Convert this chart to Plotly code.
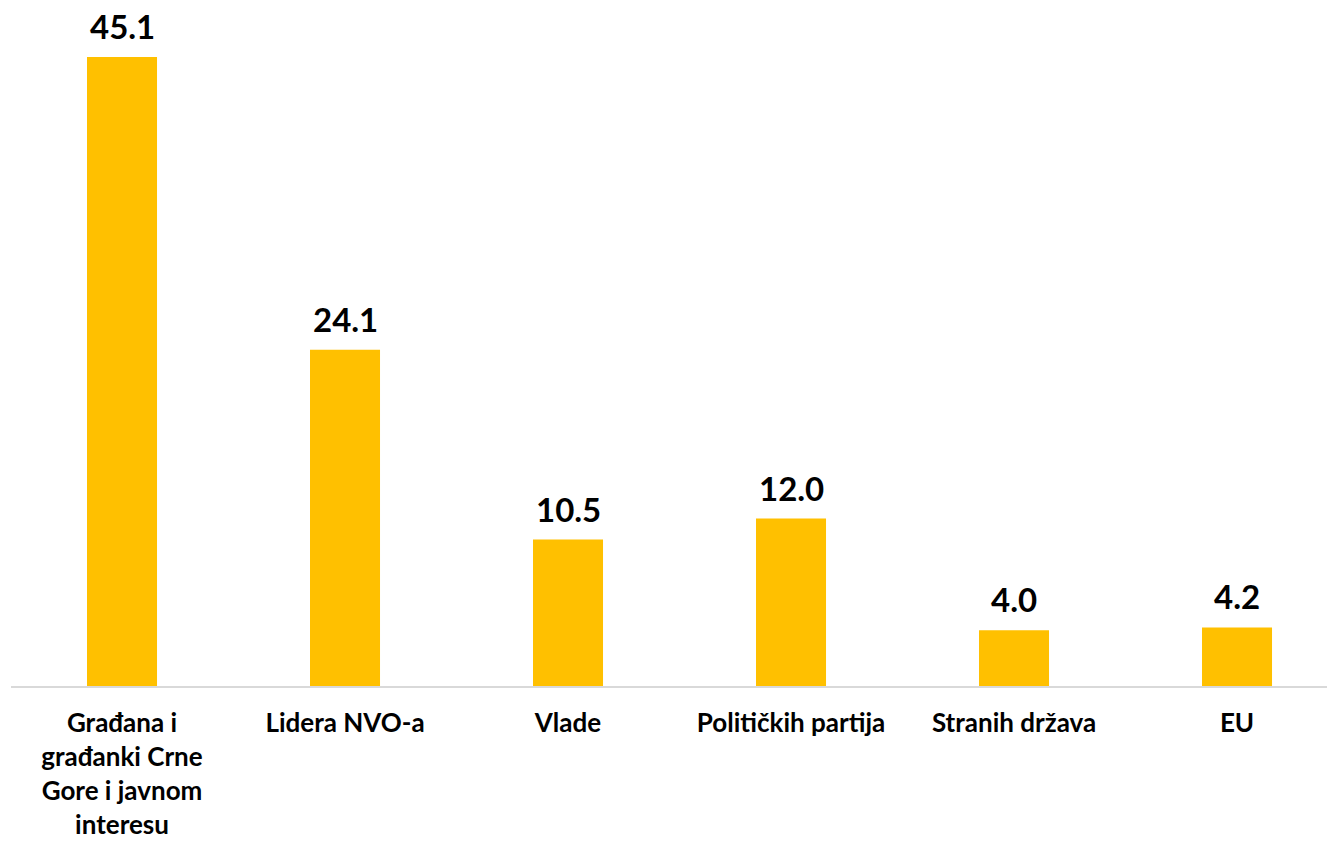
import plotly.graph_objects as go

categories = ["Građana i<br>građanki Crne<br>Gore i javnom<br>interesu", "Lidera NVO-a", "Vlade",
              "Političkih partija", "Stranih država", "EU"]
values = [45.1, 24.1, 10.5, 12.0, 4.0, 4.2]
labels = ["45.1", "24.1", "10.5", "12.0", "4.0", "4.2"]

FONT = "Lato"
fig = go.Figure()
fig.add_trace(go.Bar(
    x=categories, y=values, width=0.314,
    marker=dict(color="#FFC000", line=dict(width=0)),
    hoverinfo="skip",
))
for c, v, t in zip(categories, values, labels):
    fig.add_annotation(x=c, y=v, text=f"<b>{t}</b>", showarrow=False,
                       yanchor="bottom", yshift=10, borderpad=0,
                       font=dict(family=FONT, size=33, color="#000000"))

fig.update_layout(
    width=1327, height=841,
    margin=dict(l=11, r=0, t=0, b=155),
    paper_bgcolor="white", plot_bgcolor="white",
    showlegend=False,
    font=dict(family=FONT, size=26, color="#000000"),
    xaxis=dict(
        type="category",
        range=[-0.4978, 5.4035],
        showline=True, linecolor="#d9d9d9", linewidth=2,
        showgrid=False, zeroline=False,
        ticks="", ticklabelstandoff=13,
        tickfont=dict(family=FONT, size=26, color="#000000", weight="bold"),
        fixedrange=True,
    ),
    yaxis=dict(
        range=[0, 49.18], visible=False, showgrid=False, zeroline=False,
        fixedrange=True,
    ),
)

fig.write_html("out.html",
               config={"displayModeBar": False, "staticPlot": True},
               post_script="document.body.style.margin='0px';document.body.style.overflow='hidden';")
